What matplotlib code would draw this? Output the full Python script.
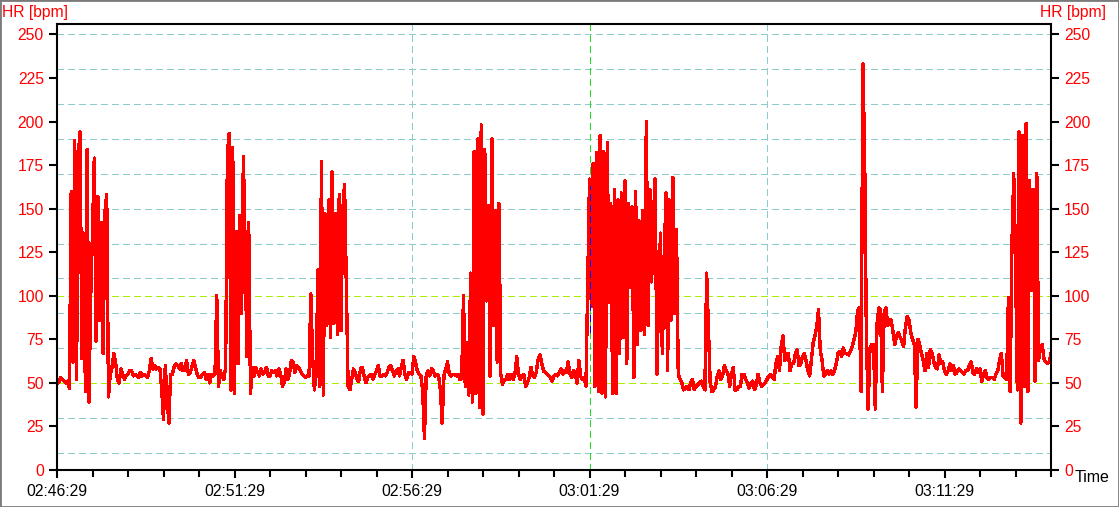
import numpy as np
import matplotlib
matplotlib.use("Agg")
import matplotlib.pyplot as plt
from matplotlib.patches import Rectangle

plt.rcParams["font.family"] = ["Liberation Sans", "DejaVu Sans"]

# heart rate [bpm], one sample every 3 s starting at 02:46:29 (one list per minute)
SAMPLE_SEC = 3
hr_m00 = [50, 50, 53, 52, 51, 50, 51, 47, 160, 62, 189, 52, 181, 194, 64, 136, 45, 184, 39, 100]
hr_m01 = [137, 179, 74, 157, 86, 142, 67, 148, 158, 42, 55, 59, 67, 62, 52, 50, 58, 55, 52, 54]
hr_m02 = [55, 57, 57, 54, 55, 54, 53, 56, 54, 55, 54, 53, 57, 64, 58, 60, 58, 59, 58, 46]
hr_m03 = [29, 60, 42, 27, 55, 55, 59, 61, 60, 58, 61, 57, 57, 63, 55, 56, 59, 63, 59, 55]
hr_m04 = [53, 53, 55, 56, 52, 55, 50, 55, 54, 55, 100, 48, 57, 54, 52, 59, 182, 193, 46, 185]
hr_m05 = [44, 137, 61, 146, 90, 180, 128, 65, 142, 44, 59, 54, 59, 56, 54, 58, 55, 56, 59, 54]
hr_m06 = [54, 57, 56, 57, 54, 58, 55, 48, 50, 58, 52, 55, 63, 62, 56, 60, 59, 57, 55, 54]
hr_m07 = [53, 54, 54, 101, 65, 46, 55, 115, 48, 177, 43, 147, 83, 155, 76, 171, 84, 147, 78, 158]
hr_m08 = [80, 149, 164, 105, 48, 46, 52, 58, 56, 52, 51, 58, 59, 54, 50, 53, 54, 55, 52, 55]
hr_m09 = [57, 60, 54, 54, 55, 54, 56, 59, 60, 57, 54, 57, 58, 54, 59, 63, 55, 52, 56, 56]
hr_m10 = [55, 65, 62, 57, 55, 54, 46, 18, 54, 57, 54, 58, 57, 54, 55, 54, 46, 27, 54, 58]
hr_m11 = [62, 55, 54, 55, 55, 54, 55, 52, 53, 100, 48, 73, 43, 113, 39, 183, 44, 190, 36, 198]
hr_m12 = [32, 184, 97, 152, 54, 190, 83, 149, 62, 153, 55, 49, 52, 52, 55, 52, 55, 52, 55, 65]
hr_m13 = [55, 52, 54, 55, 48, 50, 53, 59, 54, 53, 56, 63, 66, 62, 57, 56, 55, 54, 53, 51]
hr_m14 = [54, 55, 54, 56, 58, 55, 57, 56, 62, 55, 53, 57, 55, 50, 63, 54, 52, 53, 48, 109]
hr_m15 = [167, 94, 176, 48, 182, 45, 192, 44, 183, 42, 188, 96, 153, 44, 161, 44, 155, 67, 159, 76]
hr_m16 = [166, 61, 153, 105, 151, 53, 160, 72, 143, 80, 149, 78, 200, 83, 161, 108, 145, 167, 55, 104]
hr_m17 = [136, 67, 111, 159, 57, 155, 86, 168, 90, 138, 55, 52, 50, 46, 47, 48, 46, 50, 52, 46]
hr_m18 = [48, 49, 50, 51, 48, 46, 113, 82, 50, 45, 46, 48, 54, 57, 52, 54, 60, 57, 55, 48]
hr_m19 = [55, 59, 46, 46, 48, 48, 55, 55, 52, 50, 47, 50, 51, 46, 49, 55, 50, 48, 49, 50]
hr_m20 = [52, 54, 55, 53, 52, 61, 65, 57, 71, 77, 63, 67, 67, 57, 61, 61, 67, 69, 60, 61]
hr_m21 = [65, 67, 63, 57, 54, 63, 73, 77, 82, 92, 69, 63, 54, 55, 57, 55, 57, 55, 57, 61]
hr_m22 = [67, 68, 65, 70, 67, 67, 66, 68, 71, 75, 79, 91, 93, 45, 233, 182, 75, 35, 70, 72]
hr_m23 = [72, 35, 84, 93, 92, 45, 90, 93, 83, 86, 86, 79, 72, 77, 79, 76, 74, 71, 82, 88]
hr_m24 = [86, 79, 75, 72, 36, 75, 72, 67, 63, 57, 67, 59, 69, 67, 62, 59, 58, 66, 61, 62]
hr_m25 = [57, 55, 57, 61, 57, 60, 55, 56, 58, 57, 56, 55, 57, 57, 60, 62, 56, 55, 58, 56]
hr_m26 = [58, 51, 55, 57, 53, 52, 53, 53, 52, 55, 57, 63, 67, 54, 53, 52, 99, 45, 130, 170]
hr_m27 = [123, 46, 194, 27, 192, 48, 199, 45, 166, 103, 161, 51, 170, 63, 69, 72, 64, 62, 61, 62, 67]

HR_MINUTES = [hr_m00, hr_m01, hr_m02, hr_m03, hr_m04, hr_m05, hr_m06, hr_m07,
              hr_m08, hr_m09, hr_m10, hr_m11, hr_m12, hr_m13, hr_m14, hr_m15,
              hr_m16, hr_m17, hr_m18, hr_m19, hr_m20, hr_m21, hr_m22, hr_m23,
              hr_m24, hr_m25, hr_m26, hr_m27]

TIME_TICKS = [0, 300, 600, 900, 1200, 1500]          # seconds since 02:46:29
TIME_LABELS = ["02:46:29", "02:51:29", "02:56:29", "03:01:29", "03:06:29", "03:11:29"]
HR_TICKS = [0, 25, 50, 75, 100, 125, 150, 175, 200, 225, 250]
GRID_LEVELS = [10, 30, 50, 70, 90, 110, 130, 150, 170, 190, 210, 230, 250]
LIMIT_LEVELS = [50, 100]
MARKERS = [600, 900, 1200]

RED = "#FF0000"
CYAN = "#8CCBCB"
LIME = "#A8EE00"


def main():
    hr = np.concatenate([np.array(m, dtype=float) for m in HR_MINUTES])
    t = np.arange(len(hr)) * SAMPLE_SEC

    W, H = 1119, 507
    fig = plt.figure(figsize=(W / 100, H / 100), dpi=100)
    ax = fig.add_axes([57 / W, 37 / H, 994 / W, 446 / H])

    # grid
    for lvl in GRID_LEVELS:
        if lvl in LIMIT_LEVELS:
            continue
        ax.axhline(lvl, color=CYAN, lw=0.75, dashes=(6, 4), zorder=1, antialiased=False)
    for lvl in LIMIT_LEVELS:
        ax.axhline(lvl, color=LIME, lw=0.75, dashes=(6, 4), zorder=1, antialiased=False)
    for m in MARKERS:
        c = "#22DD22" if m == 900 else CYAN
        ax.axvline(m, color=c, lw=0.75, dashes=(6, 4), zorder=1, antialiased=False)

    ax.plot(t, hr, color=RED, lw=1.7, zorder=2, antialiased=False)
    ax.plot([900, 900], [79, 163], color="#0000FF", lw=0.75, dashes=(6, 4), zorder=3,
            antialiased=False)

    ax.set_xlim(0, 1680)
    ax.set_ylim(0, 256)
    ax.set_xticks(TIME_TICKS)
    ax.set_xticklabels(TIME_LABELS)
    ax.set_xticks(np.arange(0, 1681, 60), minor=True)
    ax.set_yticks(HR_TICKS)

    ax.yaxis.set_ticks_position("both")
    ax.tick_params(axis="y", which="major", direction="out", length=5.8, width=1.5,
                   labelsize=11.3, labelcolor=RED, labelleft=True, labelright=True, pad=3.6)
    ax.tick_params(axis="x", which="major", direction="out", length=5.8, width=1.5,
                   labelsize=11.3, labelcolor="black", pad=4.0)
    ax.tick_params(axis="x", which="minor", direction="out", length=5.0, width=1.5)
    for sp in ax.spines.values():
        sp.set_linewidth(1.5)
        sp.set_color("black")

    fig.text(2 / W, 1 - 12 / H, "HR [bpm]", color=RED, fontsize=11.3, ha="left", va="center")
    fig.text(1106 / W, 1 - 12 / H, "HR [bpm]", color=RED, fontsize=11.3, ha="right", va="center")
    fig.text(1092 / W, 1 - 478 / H, "Time", color="black", fontsize=11.5, ha="center", va="center")

    fig.add_artist(Rectangle((0, 0), 1, 1, transform=fig.transFigure, fill=False,
                             edgecolor="#7A7A7A", lw=2))

    fig.savefig("out.png", dpi=100)


if __name__ == "__main__":
    main()
